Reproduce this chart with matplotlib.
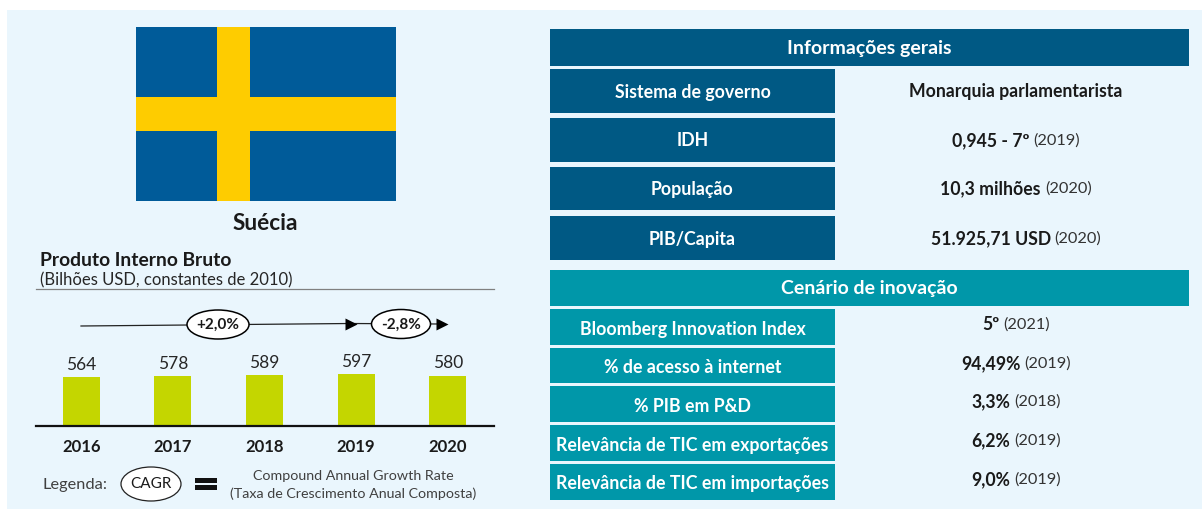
import matplotlib
matplotlib.use("Agg")
import matplotlib.pyplot as plt
from matplotlib.patches import Rectangle, Ellipse

plt.rcParams['font.family'] = ['Lato', 'DejaVu Sans']

W, H = 1202, 509
years = ['2016', '2017', '2018', '2019', '2020']
gdp = [564, 578, 589, 597, 580]
general_labels = ['Sistema de governo', 'IDH', 'População', 'PIB/Capita']
general_bold = ['Monarquia parlamentarista', '0,945 - 7º', '10,3 milhões', '51.925,71 USD']
general_year = ['', '(2019)', '(2020)', '(2020)']
innov_labels = ['Bloomberg Innovation Index', '% de acesso à internet', '% PIB em P&D',
                'Relevância de TIC em exportações', 'Relevância de TIC em importações']
innov_bold = ['5º', '94,49%', '3,3%', '6,2%', '9,0%']
innov_year = ['(2021)', '(2019)', '(2018)', '(2019)', '(2019)']

NAVY = '#005984'
TEAL = '#0097A9'
BG = '#EAF6FD'
LIME = '#C4D600'
INK = '#1a1a1a'

fig = plt.figure(figsize=(W / 100, H / 100), dpi=100, facecolor='white')
ax = fig.add_axes([0, 0, 1, 1])
ax.set_xlim(0, W)
ax.set_ylim(H, 0)
ax.axis('off')
ax.add_patch(Rectangle((7, 10), W - 7, H - 10, fc=BG, ec='none', zorder=0))


def box(x0, y0, x1, y1, c, **kw):
    ax.add_patch(Rectangle((x0, y0), x1 - x0, y1 - y0, fc=c, ec='none', zorder=1, **kw))


# flag
box(136, 27, 396, 201, '#005B99')
box(217, 27, 250, 201, '#FECC00')
box(136, 97, 396, 131, '#FECC00')
ax.text(265, 223, 'Suécia', ha='center', va='center', fontsize=16.3, fontweight='bold', color=INK)

# gdp heading
ax.text(40, 261, 'Produto Interno Bruto', ha='left', va='center', fontsize=13.9, fontweight='bold', color=INK)
ax.text(40, 280, '(Bilhões USD, constantes de 2010)', ha='left', va='center', fontsize=12, color='#262626')
ax.plot([36, 494], [289, 289], color='#808080', lw=0.9)

# bars
bx = fig.add_axes([35.5 / W, 1 - 426 / H, 458 / W, 56 / H])
bx.patch.set_alpha(0)
bx.set_xlim(-0.5, 4.5)
bx.set_ylim(0, 644)
bars = bx.bar(years, gdp, width=0.405, color=LIME)
bx.bar_label(bars, padding=3, fontsize=12.5, color='#262626')
for s in ['top', 'left', 'right']:
    bx.spines[s].set_visible(False)
bx.spines['bottom'].set_linewidth(1.6)
bx.spines['bottom'].set_color('#111111')
bx.set_yticks([])
bx.tick_params(axis='x', length=0, pad=9, labelsize=12)
for t in bx.get_xticklabels():
    t.set_fontweight('bold')
    t.set_color(INK)
bx.set_xlim(-0.5, 4.5)

# CAGR arrows
ax.plot([81, 350], [326, 323.5], color='#222222', lw=0.9, zorder=2)
ax.plot([350, 440], [323.5, 324], color='#222222', lw=0.9, zorder=2)
ax.plot([351], [323.5], marker='>', ms=8, color='black', mec='none', zorder=3)
ax.plot([442], [324], marker='>', ms=8, color='black', mec='none', zorder=3)
ax.add_patch(Ellipse((218, 324.5), 62, 29, fc='white', ec='black', lw=1.1, zorder=4))
ax.add_patch(Ellipse((401, 324), 59, 29, fc='white', ec='black', lw=1.1, zorder=4))
ax.text(218, 325, '+2,0%', ha='center', va='center', fontsize=11, fontweight='bold', color=INK, zorder=5)
ax.text(401, 325, '-2,8%', ha='center', va='center', fontsize=11, fontweight='bold', color=INK, zorder=5)

# legend
ax.text(42, 484.5, 'Legenda:', ha='left', va='center', fontsize=11.8, color='#404040')
ax.add_patch(Ellipse((151, 484), 60, 34, fc='white', ec='#222222', lw=0.9, zorder=4))
ax.text(151, 484.5, 'CAGR', ha='center', va='center', fontsize=11, color=INK, zorder=5)
box(195, 478, 217, 482.5, '#111111')
box(195, 485, 217, 489.5, '#111111')
ax.text(353.5, 475.5, 'Compound Annual Growth Rate', ha='center', va='center', fontsize=10.3, color='#404040')
ax.text(353.5, 493.5, '(Taxa de Crescimento Anual Composta)', ha='center', va='center', fontsize=10.3, color='#404040')

# panels
LEFT, MID, RIGHT = 550, 835, 1189
box(LEFT, 29, RIGHT, 66, NAVY)
ax.text((LEFT + RIGHT) / 2, 48.5, 'Informações gerais', ha='center', va='center', fontsize=14,
        fontweight='bold', color='white')
box(LEFT, 270, RIGHT, 306, TEAL)
ax.text((LEFT + RIGHT) / 2, 288.5, 'Cenário de inovação', ha='center', va='center', fontsize=14,
        fontweight='bold', color='white')


def value(cx, y, bold, year, fs=12.7):
    renderer = fig.canvas.get_renderer()
    t1 = ax.text(0, y, bold, ha='left', va='center', fontsize=fs, fontweight='bold', color=INK, zorder=3)
    w1 = t1.get_window_extent(renderer).width
    w2 = 0
    t2 = None
    if year:
        t2 = ax.text(0, y, year, ha='left', va='center', fontsize=fs - 0.9, color='#333333', zorder=3)
        w2 = t2.get_window_extent(renderer).width + 4
    x = cx - (w1 + w2) / 2
    t1.set_x(x)
    if t2 is not None:
        t2.set_x(x + w1 + 4)


gen_tops = [69, 118, 167, 216]
gen_bots = [113, 162, 210, 260]
for top, bot, lab, b, yr in zip(gen_tops, gen_bots, general_labels, general_bold, general_year):
    box(LEFT, top, MID, bot, NAVY)
    ax.text((LEFT + MID) / 2, (top + bot) / 2 + 1, lab, ha='center', va='center', fontsize=12.8,
            fontweight='bold', color='white', zorder=3)
    value(1016, (top + bot) / 2 + 0.5, b, yr)

inn_tops = [309, 348, 386, 425, 464]
inn_bots = [345, 383, 422, 461, 500]
inn_val_y = [325, 364, 402, 441, 480]
for top, bot, vy, lab, b, yr in zip(inn_tops, inn_bots, inn_val_y, innov_labels, innov_bold, innov_year):
    box(LEFT, top, MID, bot, TEAL)
    ax.text((LEFT + MID) / 2, (top + bot) / 2 + 2, lab, ha='center', va='center', fontsize=12.8,
            fontweight='bold', color='white', zorder=3)
    value(1016, vy, b, yr)

fig.savefig('out.png', dpi=100, facecolor='white')
